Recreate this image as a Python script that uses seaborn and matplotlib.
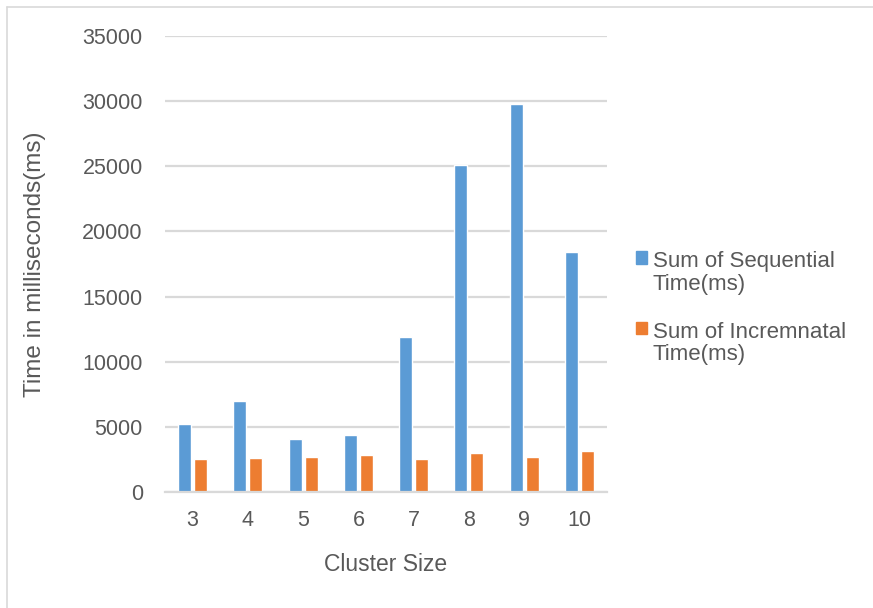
import pandas as pd
import numpy as np
import matplotlib.pyplot as plt
import seaborn as sns
from matplotlib.lines import Line2D

# values
cluster_size = [3, 4, 5, 6, 7, 8, 9, 10]
sequential_ms = [5200, 6950, 4050, 4400, 11900, 25100, 29800, 18450]
incremental_ms = [2520, 2620, 2660, 2870, 2560, 3010, 2700, 3110]
series_names = ["Sum of Sequential\nTime(ms)", "Sum of Incremnatal\nTime(ms)"]
y_ticks = [0, 5000, 10000, 15000, 20000, 25000, 30000, 35000]

df = pd.DataFrame({
    "Cluster Size": cluster_size * 2,
    "Time": sequential_ms + incremental_ms,
    "Series": [series_names[0]] * len(cluster_size) + [series_names[1]] * len(cluster_size),
})

sns.set_style("white")
plt.rcParams["font.family"] = ["Liberation Sans", "DejaVu Sans"]
txt = "#595959"
grid_c = "#D9D9D9"

fig = plt.figure(figsize=(8.73, 6.08), dpi=100)
ax = fig.add_axes([165 / 873, 116 / 608, 442 / 873, 456 / 608])

sns.barplot(data=df, x="Cluster Size", y="Time", hue="Series",
            palette=["#5B9BD5", "#ED7D31"], width=0.58, gap=0.2,
            saturation=1, ax=ax, legend=False)

ax.set_ylim(0, 35000)
ax.set_yticks(y_ticks)
ax.set_xlim(-0.5, len(cluster_size) - 0.5)
ax.yaxis.grid(True, color=grid_c, linewidth=1.6)
ax.set_axisbelow(True)
for s in ["top", "right", "left"]:
    ax.spines[s].set_visible(False)
ax.spines["bottom"].set_color(grid_c)
ax.spines["bottom"].set_linewidth(1.6)
ax.tick_params(axis="both", length=0, labelsize=15.5, colors=txt)
ax.tick_params(axis="y", pad=16)
ax.tick_params(axis="x", pad=13)
ax.set_xlabel("Cluster Size", fontsize=16.5, color=txt, labelpad=16)
ax.set_ylabel("Time in milliseconds(ms)", fontsize=17.5, color=txt, labelpad=26)

handles = [plt.Rectangle((0, 0), 1, 1, color=c) for c in ["#5B9BD5", "#ED7D31"]]
leg = fig.legend(handles, series_names, loc="upper left",
                 bbox_to_anchor=(636 / 873, 1 - 251 / 608), frameon=False,
                 fontsize=16, labelcolor=txt, handlelength=0.5, handleheight=0.5,
                 handletextpad=0.25, labelspacing=1.22, borderpad=0,
                 borderaxespad=0)
for t in leg.get_texts():
    t.set_linespacing(1.1)
# put the colour box beside the first line of each label
for col in leg._legend_handle_box.get_children():
    for row in col.get_children():
        row.align = "top"

# light frame around the chart area
fig.add_artist(Line2D([7 / 873, 7 / 873], [0, 1 - 7 / 608], color="#D9D9D9", lw=1.2))
fig.add_artist(Line2D([7 / 873, 1], [1 - 7 / 608, 1 - 7 / 608], color="#D9D9D9", lw=1.2))

fig.savefig("out.png", dpi=100)
